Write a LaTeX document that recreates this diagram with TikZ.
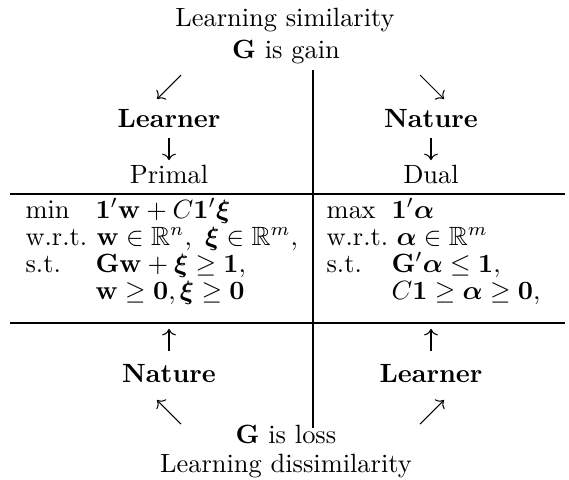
\documentclass[tikz,border=0pt]{standalone}
\usepackage{amsmath,amssymb,bm}
\usetikzlibrary{arrows.meta}

\begin{document}
\begin{tikzpicture}[
		% estilos: coordenadas en pixeles de la figura de referencia
		x=0.3788pt, y=-0.3788pt,
		lbl/.style = {inner sep=0pt, anchor=base},
		cell/.style = {inner sep=0pt, anchor=base west},
		player/.style = {lbl, font=\bfseries},
		rule/.style = {line width=0.4pt},
		>={To}
		]
		\useasboundingbox (0,0) rectangle (569,479);
		
		% --- CABECERA: GANANCIA ---
		\node [lbl] (simil) at (285,26) {Learning similarity};
		\node [lbl] (gain) at (286,58) {$\mathbf{G}$ is gain};
		\node [player] (learnTop) at (169,127) {Learner};
		\node [player] (natTop) at (431,127) {Nature};
		\node [lbl] (primal) at (169,183) {Primal};
		\node [lbl] (dual) at (431,183) {Dual};
		
		% --- PRIMAL ---
		\node [cell] (minP) at (25,218) {$\min$};
		\node [cell] (objP) at (95,218) {$\mathbf{1}'\mathbf{w}+C\mathbf{1}'\boldsymbol{\xi}$};
		\node [cell] (wrtP) at (25,245) {w.r.t.};
		\node [cell] (varP) at (96,245) {$\mathbf{w}\in\mathbb{R}^n,\ \boldsymbol{\xi}\in\mathbb{R}^m,$};
		\node [cell] (stP) at (25,272) {s.t.};
		\node [cell] (conP) at (95,272) {$\mathbf{G}\mathbf{w}+\boldsymbol{\xi}\geq\mathbf{1},$};
		\node [cell] (posP) at (95,299) {$\mathbf{w}\geq\mathbf{0},\boldsymbol{\xi}\geq\mathbf{0}$};
		
		% --- DUAL ---
		\node [cell] (maxD) at (326,218) {$\max$};
		\node [cell] (objD) at (391,218) {$\mathbf{1}'\boldsymbol{\alpha}$};
		\node [cell] (wrtD) at (326,245) {w.r.t.};
		\node [cell] (varD) at (396,245) {$\boldsymbol{\alpha}\in\mathbb{R}^m$};
		\node [cell] (stD) at (326,272) {s.t.};
		\node [cell] (conD) at (391,272) {$\mathbf{G}'\boldsymbol{\alpha}\leq\mathbf{1},$};
		\node [cell] (boxD) at (391,299) {$C\mathbf{1}\geq\boldsymbol{\alpha}\geq\mathbf{0},$};
		
		% --- PIE: PERDIDA ---
		\node [player] (natBot) at (169,382) {Nature};
		\node [player] (learnBot) at (431,382) {Learner};
		\node [lbl] (loss) at (286,443) {$\mathbf{G}$ is loss};
		\node [lbl] (dissim) at (286,472) {Learning dissimilarity};
		
		% --- REGLAS ---
		\coordinate (divTop) at (313,70);
		\coordinate (divBot) at (313,428);
		\coordinate (ruleAL) at (10,194);
		\coordinate (ruleAR) at (565,194);
		\coordinate (ruleBL) at (10,323);
		\coordinate (ruleBR) at (565,323);
		\draw [rule] (divTop) -- (divBot);
		\draw [rule] (ruleAL) -- (ruleAR);
		\draw [rule] (ruleBL) -- (ruleBR);
		
		% --- FLECHAS ---
		\coordinate (sw1) at (181,75);
		\coordinate (sw2) at (157,99);
		\coordinate (se1) at (420,75);
		\coordinate (se2) at (444,99);
		\coordinate (nw1) at (181,424);
		\coordinate (nw2) at (157,400);
		\coordinate (ne1) at (420,424);
		\coordinate (ne2) at (444,400);
		\draw [->] (sw1) -- (sw2);
		\draw [->] (se1) -- (se2);
		\draw [->, shorten <=4pt, shorten >=1.5pt] (learnTop) -- (primal);
		\draw [->, shorten <=4pt, shorten >=1.5pt] (natTop) -- (dual);
		\draw [->, shorten <=4.5pt, shorten >=2.2pt] (natBot) -- (natBot |- ruleBL);
		\draw [->, shorten <=4.5pt, shorten >=2.2pt] (learnBot) -- (learnBot |- ruleBL);
		\draw [->] (nw1) -- (nw2);
		\draw [->] (ne1) -- (ne2);
		
	\end{tikzpicture}
\end{document}
